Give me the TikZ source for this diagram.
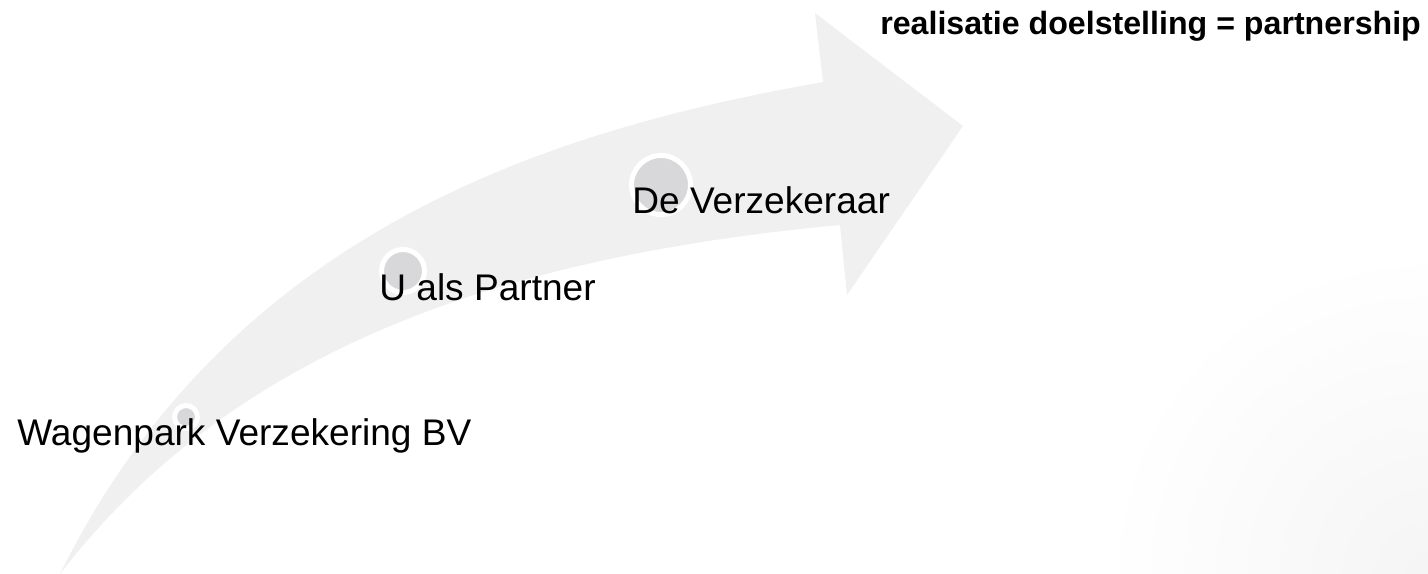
\documentclass[tikz,border=0pt]{standalone}
\usepackage{fontspec}
\setmainfont{Liberation Sans}
\definecolor{arrowgrey}{HTML}{F0F0F0}
\definecolor{dotgrey}{HTML}{D8D8DA}
\tikzset{
  stage/.style={circle, fill=dotgrey, draw=white, line width=0.1cm, inner sep=0pt},
  stage-text/.style={anchor=base west, inner sep=0pt, font=\fontsize{21.1}{25}\selectfont},
}
\begin{document}
\begin{tikzpicture}[x=0.02cm, y=-0.02cm]
  \useasboundingbox (0, 0) rectangle (1428, 574);
  \begin{scope}
    \clip (0, 0) rectangle (1428, 574);
    \shade[inner color=black!4, outer color=white] (1428, 574) circle (6.5cm);
  \end{scope}

  \fill[arrowgrey] (60, 574) .. controls (230, 230) and (550, 130) .. (823, 82) -- (815, 13) -- (963, 126)
    -- (847, 295) -- (840, 225) .. controls (520, 255) and (240, 340) .. (60, 574) -- cycle;

  \node (bv-dot) [stage, minimum size=0.46cm] at (186, 417) {};
  \node (partner-dot) [stage, minimum size=0.86cm] at (403, 271) {};
  \node (insurer-dot) [stage, minimum size=1.18cm] at (661, 185) {};

  \node (bv) [stage-text] at (17, 445) {Wagenpark Verzekering BV};
  \node (partner) [stage-text] at (379, 301) {U als Partner};
  \node (insurer) [stage-text] at (632, 214) {De Verzekeraar};
  \node (goal) [anchor=base west, inner sep=0pt, font=\bfseries\fontsize{18.3}{22}\selectfont] at (880, 35) {realisatie doelstelling = partnership};
\end{tikzpicture}
\end{document}
